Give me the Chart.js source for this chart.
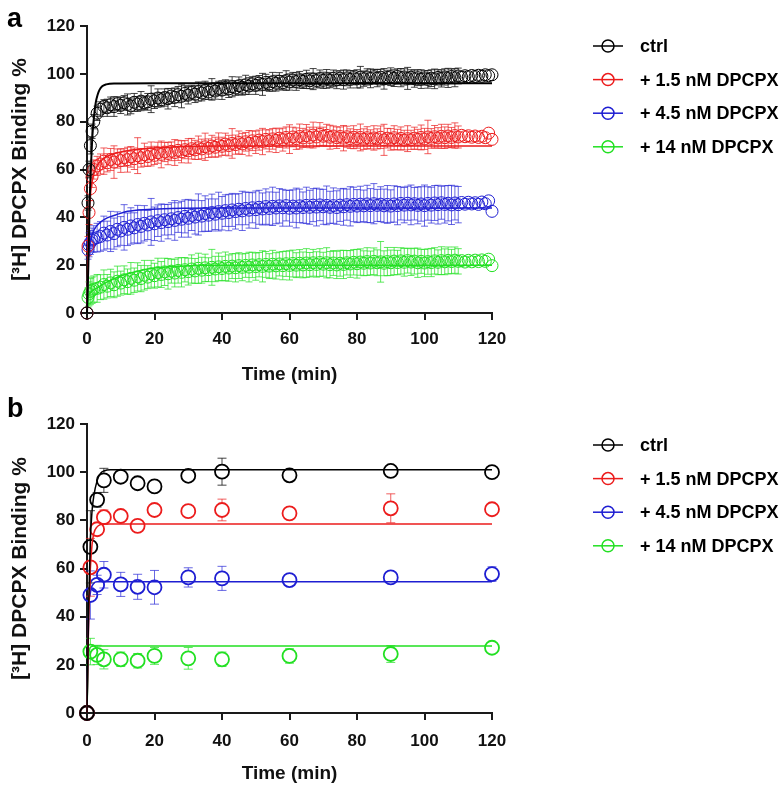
<!DOCTYPE html>
<html><head><meta charset="utf-8">
<script src="https://cdn.jsdelivr.net/npm/chart.js@4.4.1/dist/chart.umd.min.js"></script>
<style>
html,body{margin:0;padding:0;background:#fff;}
#wrap{position:relative;width:780px;height:785px;overflow:hidden;}
.panel{position:absolute;left:0;width:780px;}
#pa{top:0;height:390px;} #pb{top:390px;height:395px;}
</style></head><body>
<div id="wrap">
<div class="panel" id="pa"><canvas id="ca" width="780" height="390"></canvas></div>
<div class="panel" id="pb"><canvas id="cb" width="780" height="395"></canvas></div>
</div>
<script>
// ---------- labels ----------
const seriesLabels = ['ctrl', '+ 1.5 nM DPCPX', '+ 4.5 nM DPCPX', '+ 14 nM DPCPX'];
const xTitle = 'Time (min)';
const yTitle = '[\u00B3H] DPCPX Binding %';
const xTicks = [0, 20, 40, 60, 80, 100, 120];
const yTicks = [0, 20, 40, 60, 80, 100, 120];

// ---------- panel a : data ----------
const timeA = [0,0.3,0.6,1,1.5,2,3,
4,5,6,7,8,9,10,11,12,13,
14,15,16,17,18,19,20,21,22,23,
24,25,26,27,28,29,30,31,32,33,
34,35,36,37,38,39,40,41,42,43,
44,45,46,47,48,49,50,51,52,53,
54,55,56,57,58,59,60,61,62,63,
64,65,66,67,68,69,70,71,72,73,
74,75,76,77,78,79,80,81,82,83,
84,85,86,87,88,89,90,91,92,93,
94,95,96,97,98,99,100,101,102,103,
104,105,106,107,108,109,110,111,112,113,
114,115,116,117,118,119,120];

const ctrlA = [0,46,60,70,76,80,83.5,
85.2,86.4,85.8,87.1,86.3,87.5,86.8,87.9,87.2,86.6,
88.1,87.4,88.6,87.9,88.3,89.4,88.7,89.9,89.2,90.1,
89.6,90.7,90.2,91.3,90.6,91.8,91.1,92.2,91.5,92.6,
92.0,93.1,92.4,93.5,92.8,93.9,93.2,94.3,93.7,94.6,
94.1,95.0,94.4,95.4,94.9,95.8,95.2,96.1,95.6,96.4,
95.8,96.7,96.1,96.9,96.3,97.2,96.6,97.4,96.8,97.5,
96.9,97.7,97.1,97.8,97.2,98.0,97.3,97.9,97.4,98.1,
97.5,98.2,97.6,98.3,97.7,98.4,97.9,98.6,98.0,98.7,
98.1,98.8,98.2,98.6,97.9,98.5,98.8,98.2,98.9,98.4,
98.7,98.1,98.6,98.0,98.4,97.8,98.3,97.7,98.2,97.9,
98.5,98.1,98.7,98.3,98.9,98.4,99.1,98.6,99.2,98.8,
99.3,98.9,99.4,99.0,99.6,99.2,99.6];
const ctrlErrA = [0,3,3.5,3.5,3,3,3,
3.1,2.8,3.6,3.2,4.1,2.9,3.4,3.0,4.4,3.3,
3.7,3.1,4.0,2.8,3.5,5.6,3.2,3.8,3.0,3.6,
4.3,3.1,3.9,3.4,4.8,3.2,3.7,3.0,3.5,4.0,
3.3,3.8,3.1,4.5,3.4,3.0,3.9,3.2,3.6,4.2,
3.1,3.7,3.3,4.0,3.5,3.0,3.8,3.2,4.6,3.4,
3.1,3.9,3.3,3.6,3.0,4.1,3.4,3.2,3.7,3.5,
3.0,3.8,3.3,4.4,3.1,3.6,3.4,3.9,3.2,3.5,
3.7,3.1,4.0,3.3,3.6,3.0,3.8,4.5,3.2,3.4,
3.9,3.1,3.6,3.3,4.3,3.0,3.7,3.5,3.2,3.8,
3.4,4.6,3.1,3.6,3.3,3.9,3.0,3.7,3.5,4.1,
3.2,3.6,3.4,4.0,3.1,3.8,3.3];

const dp15A = [0,28,42,52,57,60,61.5,
62.3,63.5,62.8,64.2,63.1,64.6,63.7,65.0,64.1,65.3,
64.5,65.8,64.9,66.2,65.4,66.5,65.9,67.0,66.3,67.3,
66.7,67.6,67.1,68.0,67.4,68.3,67.8,68.7,68.2,69.1,
68.6,69.5,68.9,69.8,69.3,70.3,69.7,70.6,70.0,70.9,
70.4,71.3,70.7,71.6,71.0,72.0,71.4,72.3,71.7,72.6,
72.0,72.8,72.2,73.1,72.5,73.4,72.7,73.6,72.9,73.8,
73.2,74.1,73.4,74.4,73.6,74.7,73.9,74.3,73.5,74.0,
73.3,73.8,73.1,73.7,72.9,73.5,72.8,73.4,72.7,73.3,
72.6,73.2,72.8,73.5,72.4,73.1,72.6,73.3,72.5,73.0,
72.3,72.9,72.4,73.1,72.6,73.4,72.8,73.6,73.0,73.7,
73.2,73.9,73.3,74.0,73.4,74.2,73.6,74.3,73.7,74.1,
73.5,74.0,73.4,73.9,73.3,75.2,72.6];
const dp15ErrA = [0,4,5,5,4.5,4,4,
4.2,5.5,3.8,4.6,6.8,4.0,4.9,3.7,5.2,4.3,
4.5,7.5,3.9,4.8,4.1,5.0,3.8,4.4,5.6,4.0,
4.7,3.9,5.4,4.2,4.6,3.8,5.1,4.3,4.0,4.9,
4.1,5.7,3.9,4.5,4.2,5.0,3.8,4.6,4.3,6.2,
4.0,4.8,4.4,3.9,5.3,4.1,4.7,4.2,5.5,4.0,
4.6,4.3,5.1,3.9,4.8,4.4,6.0,4.1,4.5,5.2,
4.0,4.7,4.3,5.4,4.1,4.9,3.8,4.6,5.0,4.2,
4.5,4.0,5.3,4.4,4.1,4.8,3.9,5.6,4.3,4.6,
4.0,5.1,4.2,4.7,6.5,4.1,4.5,5.0,4.3,4.8,
4.1,5.4,4.0,4.6,4.2,5.2,4.4,7.0,4.1,4.7,
4.3,5.0,4.5,4.9,4.2,5.3,4.6];

const dp45A = [0,26.5,28.5,29.5,30.5,31,31.5,
32.0,33.4,32.6,34.1,33.2,35.0,34.3,35.8,35.0,36.4,
35.6,37.0,36.2,37.5,36.8,38.1,37.3,38.6,37.8,39.0,
38.2,39.4,38.7,39.9,39.2,40.4,39.6,40.8,40.1,41.2,
40.5,41.6,40.9,42.0,41.3,42.4,41.7,42.8,42.0,43.1,
42.4,43.4,42.7,43.7,43.0,44.0,43.2,44.2,43.5,44.5,
43.7,44.6,43.9,44.8,44.0,44.9,43.8,44.7,43.9,44.8,
44.1,45.0,44.2,45.1,44.3,45.2,44.4,45.0,44.2,44.9,
44.1,45.1,44.4,45.3,44.6,45.4,44.7,45.5,44.8,45.6,
44.9,45.7,45.0,45.5,44.8,45.4,44.7,45.6,44.9,45.8,
45.1,45.9,45.2,45.7,45.0,45.6,44.9,45.8,45.1,46.0,
45.3,46.1,45.4,45.9,45.2,46.0,45.3,46.2,45.5,46.3,
45.6,46.1,45.4,46.4,45.7,46.9,42.5];
const dp45ErrA = [0,4,5,5,5,5.5,6,
6.2,7.1,5.8,8.4,6.5,7.3,6.0,9.5,6.8,7.6,
6.3,8.0,6.9,7.4,6.1,9.8,7.0,6.6,7.8,6.4,
7.2,6.7,8.3,6.2,7.5,6.9,7.9,6.3,7.1,8.6,
6.5,7.4,6.8,7.7,6.4,8.1,7.0,6.6,7.6,6.9,
7.3,6.5,8.2,6.8,7.5,6.3,7.8,7.1,6.7,7.4,
6.9,8.0,6.6,7.2,7.7,6.4,7.5,6.8,8.3,7.0,
6.5,7.6,7.1,6.9,7.9,6.6,7.3,8.1,6.7,7.4,
7.0,6.8,7.7,6.5,8.2,7.2,6.9,7.5,6.6,7.8,
7.1,8.4,6.7,7.3,7.0,7.9,6.8,7.6,8.0,6.9,
7.4,7.1,8.3,6.8,7.7,7.2,8.6,7.0,7.5,7.3,
8.1,6.9,7.8,7.4,8.2,7.1,7.6];

const dp14A = [0,6.5,8,9,9.5,10,10.3,
10.8,11.9,11.2,12.6,11.8,13.3,12.5,13.9,13.1,14.5,
13.7,15.1,14.4,15.8,15.0,16.4,15.6,16.9,16.1,17.2,
16.4,17.5,16.7,17.8,17.0,18.1,17.3,18.4,17.6,18.7,
17.9,18.9,18.1,19.1,18.4,19.3,18.6,19.5,18.8,19.6,
18.9,19.8,19.1,19.9,19.2,20.1,19.4,20.2,19.5,20.3,
19.6,20.4,19.7,20.5,19.8,20.6,19.9,20.7,20.0,20.8,
20.1,20.9,20.2,21.0,20.3,21.1,20.4,21.0,20.2,20.9,
20.1,20.8,20.3,21.0,20.5,21.2,20.6,21.3,20.8,21.5,
20.9,21.6,21.0,21.4,20.8,21.5,21.0,21.7,21.1,21.8,
21.2,21.9,21.3,21.7,21.0,21.6,20.9,21.5,21.1,21.8,
21.2,21.9,21.4,22.0,21.5,22.1,21.6,21.9,21.3,22.0,
21.4,22.1,21.5,22.2,21.6,22.5,19.8];
const dp14ErrA = [0,4,5,5.5,5.5,5.5,5.8,
5.2,6.1,4.9,5.7,5.4,6.3,5.0,5.8,5.3,6.6,
5.1,5.9,5.5,6.2,4.8,5.6,5.2,6.0,5.4,5.7,
6.4,5.0,5.8,5.3,6.1,5.1,5.6,5.9,5.2,6.3,
5.4,5.7,5.0,7.5,5.3,5.8,5.1,6.0,5.5,5.2,
5.9,5.4,5.6,5.0,6.2,5.3,5.7,5.1,6.5,5.4,
5.2,5.8,5.5,5.0,5.9,5.3,6.1,5.6,5.2,5.7,
5.4,6.0,5.1,5.6,5.3,5.8,5.0,6.3,5.5,5.2,
5.7,5.4,5.9,5.1,5.6,5.3,6.0,5.5,5.2,5.8,
5.0,5.6,5.4,8.5,5.2,5.9,5.3,5.7,5.1,5.5,
5.8,5.2,5.6,5.4,6.1,5.0,5.7,5.3,5.9,5.5,
5.2,5.8,5.4,5.6,5.1,5.5,5.3];

// panel a : fitted curves
const fitCtrlTimeA = [0,0.4,0.8,1.2,1.6,2,2.6,3.2,3.7,4.5,5.7,8,20,120];
const fitCtrlA     = [0,20,47,62,74,81,88,91.5,93.3,94.8,95.6,96,96.1,96.1];
const fit15TimeA   = [0,0.3,0.7,1.2,2,3,4,6,10,15,20,27,40,120];
const fit15A       = [0,25,43,52,58,61.5,63.5,65.5,67.3,68.4,69,69.5,69.8,69.8];
const fit45TimeA   = [0,0.2,0.5,1,2,4,6,8.5,12,18,25,40,120];
const fit45A       = [0,15,25,30,34.5,38,39.8,41,42.5,43.3,43.7,43.9,43.9];
const fit14TimeA   = [0,0.3,1,3,6,10,15,20,30,40,120];
const fit14A       = [0,6,8.5,10.5,13,15.5,17.5,18.8,19.8,20,20];

// ---------- panel b : data ----------
const timeB = [0,1,3,5,10,15,20,30,40,60,90,120];
const ctrlB    = [0,69,88.5,96.6,98.1,95.4,94.1,98.5,100.2,98.7,100.5,100];
const ctrlErrB = [0,15,3,5,1,1,2.5,1.5,5.6,2,1.5,0.5];
const dp15B    = [0,60.5,76.3,81.3,81.8,77.7,84.3,83.8,84.3,82.9,85,84.6];
const dp15ErrB = [0,12,2,3,2,1,1,1,4.5,1,6,1];
const dp45B    = [0,49,53.2,57.4,53.4,52.4,52.2,56.3,55.9,55.2,56.3,57.7];
const dp45ErrB = [0,10,4,5.5,5,5.2,7,4,5,1,1.5,3];
const dp14B    = [0,25.5,24.1,22.3,22.3,21.7,23.7,22.7,22.3,23.7,24.5,27.1];
const dp14ErrB = [0,5.5,4,4,3,3,3.5,4.5,3,3,3.5,1];

const fitCtrlTimeB = [0,0.5,1,1.5,2,3,4,5,7,120];
const fitCtrlB     = [0,45,72,84,90,96.5,99.5,100.5,101,101];
const fit15TimeB   = [0,0.5,1,1.5,2,3,4,5,120];
const fit15B       = [0,40,60,70,74.5,77.3,78.2,78.5,78.5];
const fit45TimeB   = [0,0.5,1,2,3,120];
const fit45B       = [0,42,50,53.8,54.5,54.5];
const fit14TimeB   = [0,0.3,0.7,1.2,2,120];
const fit14B       = [0,20,26,27.5,27.8,27.8];

// ---------- styling ----------
const COLORS = ['#000000', '#ec1c1c', '#1e1ed2', '#22e022'];
const ERRCOLORS = ['rgba(20,20,20,0.8)', 'rgba(236,40,40,0.75)', 'rgba(40,40,215,0.7)', 'rgba(40,225,40,0.75)'];
const FONT = "'Liberation Sans', Arial, Helvetica, sans-serif";
Chart.defaults.font.family = FONT;
Chart.defaults.color = '#111';

const pts = (xs, ys) => xs.map((x, i) => ({x: x, y: ys[i]}));

// error bars plugin
const errorBars = {
  id: 'errorBars',
  afterDatasetDraw(chart, args, opts) {
    const ds = chart.data.datasets[args.index];
    if (!ds.errors) return;
    const xs = chart.scales.x, ys = chart.scales.y, ctx = chart.ctx;
    const cap = opts.cap || 3.5;
    const gap = opts.skipInside ? ds.pointRadius : 0;
    ctx.save();
    ctx.strokeStyle = ds.errorColor;
    ctx.lineWidth = opts.width || 1;
    ctx.beginPath();
    ds.data.forEach((p, i) => {
      const e = ds.errors[i];
      if (!e) return;
      const x = xs.getPixelForValue(p.x);
      const yc = ys.getPixelForValue(p.y);
      const yt = ys.getPixelForValue(p.y + e);
      const yb = ys.getPixelForValue(p.y - e);
      if (yc - yt <= gap) return;
      ctx.moveTo(x, yt); ctx.lineTo(x, yc - gap);
      ctx.moveTo(x, yc + gap); ctx.lineTo(x, yb);
      ctx.moveTo(x - cap, yt); ctx.lineTo(x + cap, yt);
      ctx.moveTo(x - cap, yb); ctx.lineTo(x + cap, yb);
    });
    ctx.stroke();
    ctx.restore();
  }
};

// side legend plugin
const sideLegend = {
  id: 'sideLegend',
  afterDraw(chart, args, o) {
    const ctx = chart.ctx;
    const items = chart.data.datasets.filter(d => d.inLegend);
    ctx.save();
    ctx.font = 'bold ' + o.size + 'px ' + FONT;
    ctx.textBaseline = 'middle';
    ctx.textAlign = 'left';
    items.forEach((d, i) => {
      const y = o.y + i * o.gap;
      ctx.strokeStyle = d.borderColor;
      ctx.lineWidth = 1.5;
      ctx.beginPath(); ctx.moveTo(o.x, y); ctx.lineTo(o.x + 30, y); ctx.stroke();
      ctx.beginPath(); ctx.arc(o.x + 15, y, 6, 0, Math.PI * 2); ctx.stroke();
      ctx.fillStyle = '#000';
      ctx.fillText(d.label, o.x + 47, y + 1);
    });
    ctx.restore();
  }
};

// panel letter plugin
const panelLetter = {
  id: 'panelLetter',
  afterDraw(chart, args, o) {
    const ctx = chart.ctx;
    ctx.save();
    ctx.font = 'bold 27px ' + FONT;
    ctx.fillStyle = '#000';
    ctx.textBaseline = 'alphabetic';
    ctx.fillText(o.text, o.x, o.y);
    ctx.restore();
  }
};

function makeChart(canvasId, cfg) {
  const datasets = [];
  cfg.fits.forEach((f, i) => {
    datasets.push({
      label: 'fit ' + seriesLabels[i],
      data: pts(f[0], f[1]),
      showLine: true,
      borderColor: COLORS[i],
      borderWidth: i === 0 ? cfg.fitW0 : cfg.fitW,
      pointRadius: 0,
      cubicInterpolationMode: 'monotone',
      fill: false,
      clip: false
    });
  });
  cfg.series.forEach((s, i) => {
    datasets.push({
      label: seriesLabels[i],
      inLegend: true,
      data: pts(cfg.time, s[0]),
      errors: s[1],
      errorColor: ERRCOLORS[i],
      showLine: false,
      borderColor: COLORS[i],
      backgroundColor: 'rgba(0,0,0,0)',
      pointRadius: cfg.r,
      pointBorderWidth: cfg.pw,
      pointStyle: 'circle',
      clip: false
    });
  });
  const axisColor = '#1a1a1a';
  return new Chart(document.getElementById(canvasId), {
    type: 'scatter',
    data: {datasets},
    options: {
      responsive: false,
      animation: false,
      devicePixelRatio: 1,
      layout: {padding: {top: cfg.top, right: 288, bottom: 0, left: 0}},
      plugins: {
        legend: {display: false},
        tooltip: {enabled: false},
        errorBars: {cap: cfg.cap, width: 1, skipInside: cfg.skipInside},
        sideLegend: {x: 593, y: cfg.legY, gap: 33.6, size: 18},
        panelLetter: {text: cfg.letter, x: 7, y: 27}
      },
      scales: {
        x: {
          type: 'linear', min: 0, max: 120,
          afterFit: s => { s.height = cfg.xh; },
          afterBuildTicks: s => { s.ticks = xTicks.map(v => ({value: v})); },
          grid: {drawOnChartArea: false, drawTicks: true, tickLength: 7, color: axisColor, lineWidth: 2},
          border: {display: true, color: axisColor, width: 2},
          ticks: {font: {size: 17, weight: 'bold'}, color: '#111', padding: cfg.xpad, maxRotation: 0},
          title: {display: true, text: xTitle, font: {size: 19, weight: 'bold'}, color: '#111', padding: {top: 0, bottom: cfg.tpad}}
        },
        y: {
          type: 'linear', min: 0, max: 120,
          afterFit: s => { s.width = 87; },
          afterBuildTicks: s => { s.ticks = yTicks.map(v => ({value: v})); },
          grid: {drawOnChartArea: false, drawTicks: true, tickLength: 7, color: axisColor, lineWidth: 2},
          border: {display: true, color: axisColor, width: 2},
          ticks: {font: {size: 17, weight: 'bold'}, color: '#111', padding: 5},
          title: {display: true, text: yTitle, font: {size: 21, weight: 'bold'}, color: '#111', padding: {top: 8, bottom: 0}}
        }
      }
    },
    plugins: [errorBars, sideLegend, panelLetter]
  });
}

makeChart('ca', {
  letter: 'a', top: 26, xh: 77, xpad: 9, tpad: 4, legY: 46, r: 6, pw: 1, cap: 3.5, fitW0: 2, fitW: 1.5, skipInside: false,
  time: timeA,
  series: [[ctrlA, ctrlErrA], [dp15A, dp15ErrA], [dp45A, dp45ErrA], [dp14A, dp14ErrA]],
  fits: [[fitCtrlTimeA, fitCtrlA], [fit15TimeA, fit15A], [fit45TimeA, fit45A], [fit14TimeA, fit14A]]
});
makeChart('cb', {
  letter: 'b', top: 34, xh: 72, xpad: 11, tpad: 0, legY: 55, r: 7, pw: 1.8, cap: 4.5, fitW0: 1.5, fitW: 1.5, skipInside: true,
  time: timeB,
  series: [[ctrlB, ctrlErrB], [dp15B, dp15ErrB], [dp45B, dp45ErrB], [dp14B, dp14ErrB]],
  fits: [[fitCtrlTimeB, fitCtrlB], [fit15TimeB, fit15B], [fit45TimeB, fit45B], [fit14TimeB, fit14B]]
});
</script>
</body></html>
